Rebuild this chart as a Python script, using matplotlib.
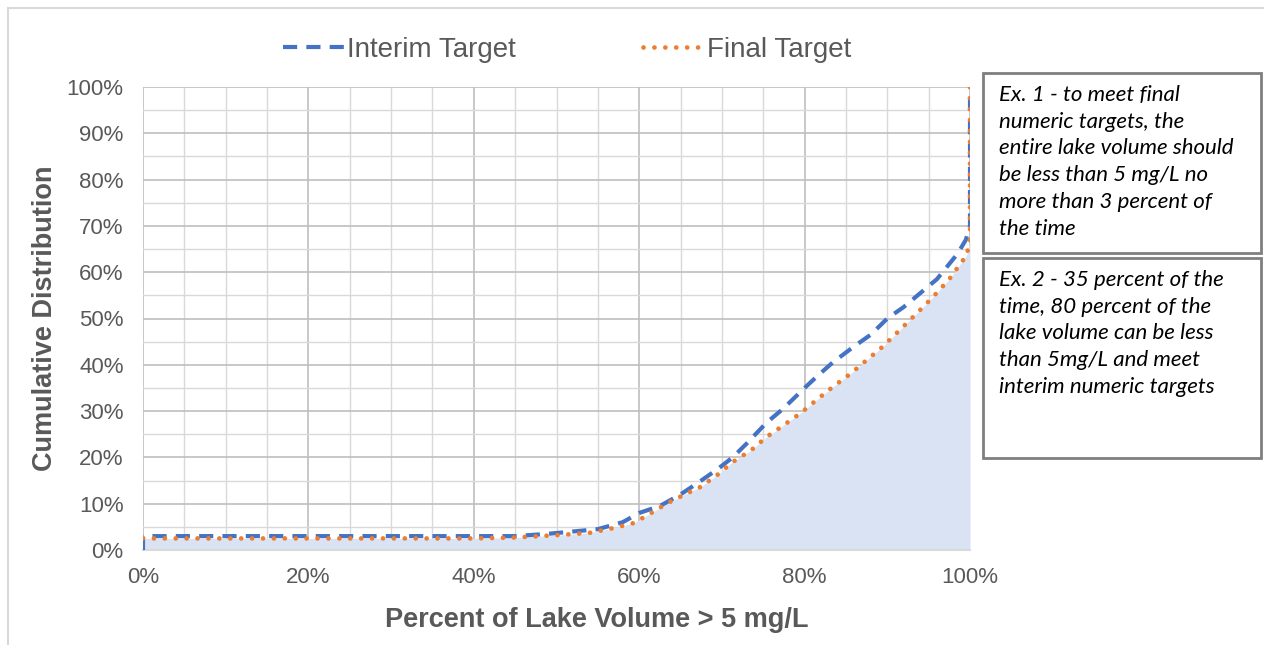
import matplotlib
matplotlib.use("Agg")
import matplotlib.pyplot as plt
from matplotlib.patches import Rectangle
from matplotlib.ticker import MultipleLocator, PercentFormatter

# values (percent)
interim_x = [0, 0, 1, 5, 10, 20, 30, 40, 45, 49, 52, 55, 58, 60, 62.5, 65, 67.5, 69.5, 71.3,
             73, 75.4, 77.4, 80, 81.5, 83.4, 86, 88, 90, 92, 94, 96, 98.5, 99.5, 100, 100]
interim_y = [0, 3, 3, 3, 3, 3, 3, 3, 3, 3.5, 4, 4.5, 6, 8, 9.5, 12, 15, 17.5, 20,
             23, 27.5, 30.5, 35, 37.5, 40.5, 44, 46.5, 50, 52.5, 55.5, 58.5, 64, 67, 70, 100]

final_x = [0, 1, 5, 10, 20, 30, 40, 45, 50, 54, 56.8, 59.3, 61, 63.4, 65.5, 67.4, 69.5, 71.3,
           73.5, 75.4, 77.5, 79.7, 81.5, 83.4, 85.5, 87.5, 89.5, 91.5, 93.5, 95.5, 97.5, 99.6, 100, 100]
final_y = [2.5, 2.5, 2.5, 2.5, 2.5, 2.5, 2.5, 2.7, 3.2, 3.7, 4.7, 5.8, 7.5, 10.1, 12, 13.6, 16.3, 19,
           21.5, 24.4, 27, 29.8, 32.5, 35.2, 38, 41, 44, 47.5, 51, 54.6, 58.5, 63.7, 67, 100]

note_1 = ("Ex. 1 - to meet final\nnumeric targets, the\nentire lake volume should\n"
          "be less than 5 mg/L no\nmore than 3 percent of\nthe time")
note_2 = ("Ex. 2 - 35 percent of the\ntime, 80 percent of the\nlake volume can be less\n"
          "than 5mg/L and meet\ninterim numeric targets")

plt.rcParams['font.family'] = ['Liberation Sans', 'DejaVu Sans']
txt_color = '#595959'

fig = plt.figure(figsize=(12.64, 6.45), dpi=100)
ax = fig.add_axes([143 / 1264, 1 - 550 / 645, 827 / 1264, 463 / 645])

# shaded area under the final target curve (without the vertical jump)
ax.fill_between(final_x[:-1], 0, final_y[:-1], color='#DAE3F3', zorder=1, linewidth=0)

ax.plot(interim_x, interim_y, color='#4472C4', linewidth=3, linestyle=(0, (3.4, 2.2)),
        label='Interim Target', zorder=3)
ax.plot(final_x, final_y, color='#ED7D31', linewidth=3.4, linestyle=(0, (0.01, 2.3)),
        dash_capstyle='round', label='Final Target', zorder=4)

ax.set_xlim(0, 100)
ax.set_ylim(0, 100)
ax.xaxis.set_major_locator(MultipleLocator(20))
ax.xaxis.set_minor_locator(MultipleLocator(5))
ax.yaxis.set_major_locator(MultipleLocator(10))
ax.yaxis.set_minor_locator(MultipleLocator(5))
ax.xaxis.set_major_formatter(PercentFormatter(decimals=0))
ax.yaxis.set_major_formatter(PercentFormatter(decimals=0))
ax.grid(which='major', color='#BFBFBF', linewidth=1.2, zorder=0)
ax.grid(which='minor', color='#D9D9D9', linewidth=1.0, zorder=0)
ax.set_axisbelow(True)
ax.tick_params(which='both', length=0, labelsize=16, labelcolor=txt_color)
ax.tick_params(axis='x', pad=12)
ax.tick_params(axis='y', pad=14)
for side in ['top', 'right', 'left']:
    ax.spines[side].set_visible(False)
ax.spines['bottom'].set_color('#D9D9D9')
ax.spines['bottom'].set_linewidth(1.5)

ax.set_xlabel('Percent of Lake Volume > 5 mg/L', fontsize=19.5, fontweight='bold',
              color=txt_color)
ax.xaxis.set_label_coords(0.549, -0.123)
ax.set_ylabel('Cumulative Distribution', fontsize=19.5, fontweight='bold',
              color=txt_color, labelpad=6)

fig.legend(loc='center', bbox_to_anchor=(567 / 1264, 1 - 50 / 645), ncol=2, frameon=False,
           fontsize=20, handlelength=2.2, handletextpad=0.1, columnspacing=4.6,
           labelcolor=txt_color)

# outer chart frame (top / left only visible in the reference)
fig.add_artist(plt.Line2D([8 / 1264, 1], [1 - 8 / 645] * 2, color='#D9D9D9', linewidth=1.5,
                          transform=fig.transFigure))
fig.add_artist(plt.Line2D([8 / 1264] * 2, [0, 1 - 8 / 645], color='#D9D9D9', linewidth=1.5,
                          transform=fig.transFigure))

# annotation boxes
for top, bottom, note in [(73, 253, note_1), (258, 458, note_2)]:
    fig.add_artist(Rectangle((983 / 1264, 1 - bottom / 645), 278 / 1264, (bottom - top) / 645,
                             transform=fig.transFigure, facecolor='white',
                             edgecolor='#7F7F7F', linewidth=2))
    fig.text(999 / 1264, 1 - (top + 12) / 645, note, ha='left', va='top', fontsize=16,
             style='italic', family=['Lato', 'DejaVu Sans'], color='black', linespacing=1.42)

fig.savefig('out.png', dpi=100)
